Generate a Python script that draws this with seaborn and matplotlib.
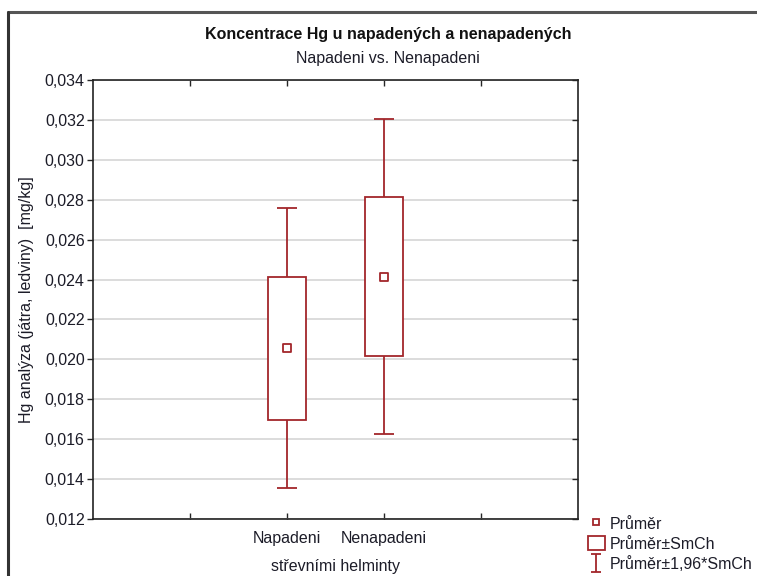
import matplotlib.pyplot as plt
import pandas as pd
import seaborn as sns
from matplotlib.lines import Line2D
from matplotlib.patches import Patch
from matplotlib.path import Path

# values
groups = ["Napadeni", "Nenapadeni"]
positions = [2, 3]
means = [0.02055, 0.02413]
box_low = [0.01697, 0.02015]      # mean - SE
box_high = [0.02412, 0.02815]     # mean + SE
whisker_low = [0.01355, 0.01625]  # mean - 1.96*SE
whisker_high = [0.02757, 0.03205] # mean + 1.96*SE
y_ticks = [0.012, 0.014, 0.016, 0.018, 0.020, 0.022, 0.024, 0.026, 0.028, 0.030, 0.032, 0.034]

RED = "#a3262b"
TXT = "#1c1c28"
FS = 11.5

sns.set_style("white")
plt.rcParams["font.family"] = ["Liberation Sans", "DejaVu Sans"]
plt.rcParams["font.size"] = FS

df = pd.DataFrame({"group": groups, "pos": positions, "mean": means})

fig = plt.figure(figsize=(7.57, 5.76), dpi=100)
ax = fig.add_axes([0.1229, 0.0990, 0.6407, 0.7621])

# mean +/- 1.96*SE whiskers
ax.vlines(positions, whisker_low, box_low, color=RED, lw=1.3, zorder=2)
ax.vlines(positions, box_high, whisker_high, color=RED, lw=1.3, zorder=2)
ax.hlines(whisker_low, [p - 0.1 for p in positions], [p + 0.1 for p in positions], color=RED, lw=1.3, zorder=2)
ax.hlines(whisker_high, [p - 0.1 for p in positions], [p + 0.1 for p in positions], color=RED, lw=1.3, zorder=2)

# mean +/- SE boxes
ax.bar(positions, [h - l for h, l in zip(box_high, box_low)], bottom=box_low, width=0.4,
       facecolor="white", edgecolor=RED, linewidth=1.3, zorder=3)

# means
sns.scatterplot(data=df, x="pos", y="mean", marker="s", s=28, facecolor="white",
                edgecolor=RED, linewidth=1.3, zorder=4, ax=ax, legend=False)

ax.set_xlim(0, 5)
ax.set_ylim(0.012, 0.034)
ax.set_yticks(y_ticks)
ax.set_yticklabels([f"{v:.3f}".replace(".", ",") for v in y_ticks], color=TXT)
ax.set_xticks([1, 2, 3, 4])
ax.set_xticklabels(["", "Napadeni", "Nenapadeni", ""], color=TXT)
ax.tick_params(axis="y", direction="out", length=4, width=1, left=True, pad=2)
ax.tick_params(axis="x", direction="in", length=4, width=1, bottom=True, top=True, pad=9)
ax.yaxis.grid(True, color="#dcdcdc", lw=1.4, zorder=0)
ax.set_axisbelow(True)
for sp in ax.spines.values():
    sp.set_color("#222222")
    sp.set_linewidth(1.2)

# inward ticks on the right edge
ax_r = ax.twinx()
ax_r.set_ylim(ax.get_ylim())
ax_r.set_yticks(y_ticks)
ax_r.set_yticklabels([])
ax_r.tick_params(axis="y", direction="in", length=4, width=1, right=True)
ax_r.grid(False)
for sp in ax_r.spines.values():
    sp.set_visible(False)

ax.set_xlabel("střevními helminty", color=TXT, labelpad=9)
ax.set_ylabel("Hg analýza (játra, ledviny)  [mg/kg]", color=TXT, labelpad=8)

fig.text(388 / 757, 1 - 35 / 576, "Koncentrace Hg u napadených a nenapadených",
         ha="center", va="center", fontweight="bold", fontsize=FS, color="#111111")
fig.text(388 / 757, 1 - 59 / 576, "Napadeni vs. Nenapadeni",
         ha="center", va="center", fontsize=FS, color=TXT)

# outer frame of the exported window
fig.add_artist(Line2D([8 / 757, 1.0], [1 - 12 / 576, 1 - 12 / 576], color="#555555", lw=2.2))
fig.add_artist(Line2D([8 / 757, 8 / 757], [0, 1 - 12 / 576], color="#333333", lw=2.2))

i_bar = Path([(-0.5, 1), (0.5, 1), (0, 1), (0, -1), (-0.5, -1), (0.5, -1)],
             [Path.MOVETO, Path.LINETO, Path.MOVETO, Path.LINETO, Path.MOVETO, Path.LINETO])
handles = [
    Line2D([], [], marker="s", ms=5, mfc="white", mec=RED, mew=1.3, ls="none"),
    Patch(facecolor="white", edgecolor=RED, linewidth=1.3),
    Line2D([], [], marker=i_bar, ms=13, mfc="none", mec=RED, mew=1.3, ls="none"),
]
fig.legend(handles, ["Průměr", "Průměr±SmCh", "Průměr±1,96*SmCh"],
           loc="upper left", bbox_to_anchor=(580 / 757, 1 - 508 / 576), frameon=False,
           handlelength=1.05, handleheight=1.0, handletextpad=0.3, labelspacing=0.28,
           borderpad=0, fontsize=FS, labelcolor=TXT)

fig.savefig("out.png", dpi=100)
